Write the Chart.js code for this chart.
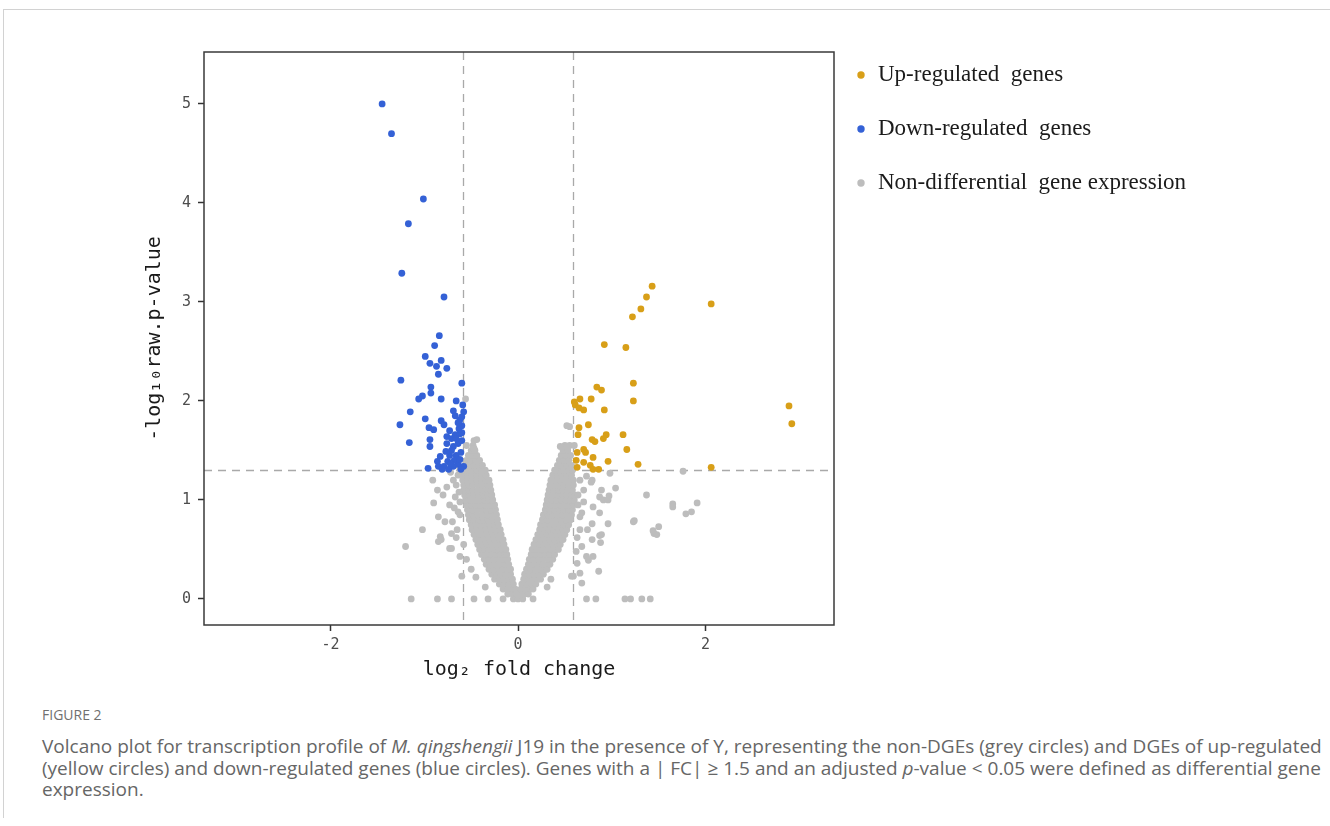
<!DOCTYPE html>
<html>
<head>
<meta charset="utf-8">
<title>Volcano plot</title>
<script src="https://cdn.jsdelivr.net/npm/chart.js@4.4.1/dist/chart.umd.min.js"></script>
<style>
  html, body { margin: 0; padding: 0; background: #fff; }
  body { width: 1330px; height: 826px; position: relative; overflow: hidden; }
  .frame {
    position: absolute; left: 3px; top: 9px; right: 0; height: 808px;
    border-top: 1px solid #d2d2d2; border-left: 1px solid #d2d2d2;
  }
  .chart-box { position: absolute; left: 20px; top: 20px; width: 1290px; height: 665px; }
  .caption { position: absolute; left: 42px; top: 706px; font-family: "Open Sans", "Noto Sans", sans-serif; }
  .fig-label { font-size: 14px; line-height: 18px; color: #707070; }
  .fig-text { margin-top: 12px; font-size: 19px; line-height: 21.5px; color: #666; white-space: nowrap; }
</style>
</head>
<body>
<div class="frame"></div>
<div class="chart-box"><canvas id="volcano"></canvas></div>
<div class="caption">
  <div class="fig-label">FIGURE 2</div>
  <div class="fig-text">Volcano plot for transcription profile of <i>M. qingshengii</i> J19 in the presence of Y, representing the non-DGEs (grey circles) and DGEs of up-regulated<br>(yellow circles) and down-regulated genes (blue circles). Genes with a | FC| ≥ 1.5 and an adjusted <i>p</i>-value &lt; 0.05 were defined as differential gene<br>expression.</div>
</div>

<script>
// Dane: [log2 fold change, -log10 p-value]
const upRegulated = [
  [1.43, 3.16], [1.37, 3.05], [1.31, 2.93], [1.22, 2.85], [2.06, 2.98], [0.92, 2.57],
  [1.15, 2.54], [1.23, 2.18], [0.84, 2.14], [0.89, 2.11], [1.23, 2.00], [0.66, 2.02],
  [0.78, 2.02], [0.61, 1.96], [0.65, 1.93], [0.70, 1.91], [0.92, 1.91], [2.89, 1.95],
  [2.92, 1.77], [0.75, 1.76], [0.65, 1.73], [0.64, 1.66], [0.94, 1.66], [1.12, 1.66],
  [0.79, 1.61], [0.82, 1.59], [0.91, 1.62], [0.63, 1.48], [0.70, 1.51], [0.72, 1.48],
  [1.16, 1.51], [0.80, 1.43], [0.70, 1.38], [0.96, 1.39], [1.28, 1.36], [0.63, 1.33],
  [0.77, 1.35], [0.86, 1.31], [0.80, 1.31], [2.06, 1.33], [0.62, 1.40], [0.60, 1.99]
];

const downRegulated = [
  [-1.45, 5.00], [-1.35, 4.70], [-1.01, 4.04], [-1.17, 3.79], [-1.24, 3.29], [-0.79, 3.05],
  [-0.84, 2.66], [-0.89, 2.56], [-0.99, 2.45], [-0.94, 2.38], [-0.82, 2.41], [-0.87, 2.35],
  [-0.76, 2.33], [-0.85, 2.27], [-1.25, 2.21], [-0.60, 2.18], [-0.93, 2.14], [-0.93, 2.08],
  [-1.02, 2.05], [-1.06, 2.02], [-0.82, 2.02], [-0.66, 2.00], [-0.59, 1.96], [-1.15, 1.89],
  [-0.69, 1.90], [-0.58, 1.89], [-1.26, 1.76], [-0.99, 1.82], [-0.82, 1.80], [-0.79, 1.76],
  [-0.62, 1.81], [-0.95, 1.73], [-0.90, 1.71], [-0.63, 1.72], [-0.60, 1.75], [-1.16, 1.58],
  [-0.94, 1.61], [-0.94, 1.54], [-0.76, 1.64], [-0.71, 1.62], [-0.67, 1.66], [-0.62, 1.67],
  [-0.76, 1.57], [-0.69, 1.54], [-0.64, 1.57], [-0.71, 1.50], [-0.83, 1.44], [-0.86, 1.39],
  [-0.96, 1.32], [-0.75, 1.39], [-0.69, 1.34], [-0.64, 1.36], [-0.58, 1.34], [-0.79, 1.34],
  [-0.85, 1.34], [-0.73, 1.45], [-0.66, 1.45], [-0.61, 1.48], [-0.77, 1.49], [-0.68, 1.40],
  [-0.62, 1.41], [-0.72, 1.36], [-0.60, 1.60], [-0.66, 1.62], [-0.73, 1.70], [-0.64, 1.78],
  [-0.60, 1.84], [-0.67, 1.85], [-0.60, 1.68], [-0.74, 1.31], [-0.61, 1.31], [-0.81, 1.31]
];

// Gęsta chmura szarych punktów (kształt litery V): [y, [x, ...]]
const nonDiffRows = [
  [0.00, [-0.05, 0.00, 0.05]],
  [0.05, [-0.11, -0.06, -0.02, 0.02, 0.07, 0.11]],
  [0.10, [-0.16, -0.11, -0.06, -0.03, 0.03, 0.08, 0.13, 0.16]],
  [0.15, [-0.20, -0.15, -0.10, -0.05, 0.04, 0.09, 0.14, 0.19]],
  [0.20, [-0.25, -0.20, -0.15, -0.10, -0.06, 0.06, 0.11, 0.16, 0.21, 0.24]],
  [0.25, [-0.28, -0.23, -0.18, -0.13, -0.08, 0.07, 0.12, 0.17, 0.22, 0.27]],
  [0.30, [-0.31, -0.26, -0.21, -0.16, -0.11, -0.08, 0.09, 0.14, 0.19, 0.24, 0.29, 0.31]],
  [0.35, [-0.34, -0.29, -0.24, -0.19, -0.14, -0.10, 0.11, 0.16, 0.21, 0.26, 0.31, 0.34]],
  [0.40, [-0.36, -0.31, -0.26, -0.21, -0.16, -0.11, 0.12, 0.17, 0.22, 0.27, 0.32, 0.37]],
  [0.45, [-0.39, -0.34, -0.29, -0.24, -0.19, -0.14, -0.12, 0.14, 0.19, 0.24, 0.29, 0.34, 0.39]],
  [0.50, [-0.41, -0.36, -0.31, -0.26, -0.21, -0.16, -0.13, 0.15, 0.20, 0.25, 0.30, 0.35, 0.40, 0.43]],
  [0.55, [-0.43, -0.38, -0.33, -0.28, -0.23, -0.18, -0.15, 0.17, 0.22, 0.27, 0.32, 0.37, 0.42, 0.45]],
  [0.60, [-0.45, -0.40, -0.35, -0.30, -0.25, -0.20, -0.16, 0.19, 0.24, 0.29, 0.34, 0.39, 0.44, 0.48]],
  [0.65, [-0.47, -0.42, -0.37, -0.32, -0.27, -0.22, -0.18, 0.21, 0.26, 0.31, 0.36, 0.41, 0.46, 0.50]],
  [0.70, [-0.49, -0.44, -0.39, -0.34, -0.29, -0.24, -0.19, 0.23, 0.28, 0.33, 0.38, 0.43, 0.48, 0.52]],
  [0.75, [-0.50, -0.45, -0.40, -0.35, -0.30, -0.25, -0.21, 0.24, 0.29, 0.34, 0.39, 0.44, 0.49, 0.54]],
  [0.80, [-0.52, -0.47, -0.42, -0.37, -0.32, -0.27, -0.22, 0.26, 0.31, 0.36, 0.41, 0.46, 0.51, 0.56]],
  [0.85, [-0.53, -0.48, -0.43, -0.38, -0.33, -0.28, -0.23, 0.27, 0.32, 0.37, 0.42, 0.47, 0.52, 0.57]],
  [0.90, [-0.54, -0.49, -0.44, -0.39, -0.34, -0.29, -0.24, 0.29, 0.34, 0.39, 0.44, 0.49, 0.54, 0.58]],
  [0.95, [-0.55, -0.50, -0.45, -0.40, -0.35, -0.30, -0.25, 0.30, 0.35, 0.40, 0.45, 0.50, 0.55, 0.59]],
  [1.00, [-0.56, -0.51, -0.46, -0.41, -0.36, -0.31, -0.27, 0.31, 0.36, 0.41, 0.46, 0.51, 0.56, 0.60]],
  [1.05, [-0.57, -0.52, -0.47, -0.42, -0.37, -0.32, -0.28, 0.32, 0.37, 0.42, 0.47, 0.52, 0.57, 0.60]],
  [1.10, [-0.58, -0.53, -0.48, -0.43, -0.38, -0.33, -0.29, 0.33, 0.38, 0.43, 0.48, 0.53, 0.58]],
  [1.15, [-0.58, -0.53, -0.48, -0.43, -0.38, -0.33, -0.30, 0.34, 0.39, 0.44, 0.49, 0.54, 0.59]],
  [1.20, [-0.59, -0.54, -0.49, -0.44, -0.39, -0.34, -0.31, 0.35, 0.40, 0.45, 0.50, 0.55, 0.59]],
  [1.25, [-0.59, -0.54, -0.49, -0.44, -0.39, -0.34, 0.37, 0.42, 0.47, 0.52, 0.57]],
  [1.30, [-0.59, -0.54, -0.49, -0.44, -0.39, -0.35, 0.39, 0.44, 0.49, 0.54, 0.58]],
  [1.35, [-0.57, -0.52, -0.47, -0.42, -0.38, 0.42, 0.47, 0.52, 0.57]],
  [1.40, [-0.55, -0.50, -0.45, -0.41, 0.44, 0.49, 0.54]],
  [1.45, [-0.53, -0.48, -0.44, 0.46, 0.51, 0.56]],
  [1.50, [-0.50, -0.46, 0.48, 0.53]],
  [1.55, [-0.48, 0.50, 0.55]],
  [1.60, [-0.47]]
];

// Pojedyncze szare punkty poza główną chmurą
const nonDiffScattered = [
  [-0.91, 1.20], [-0.90, 0.97], [-0.85, 0.83], [-0.80, 1.05], [-0.76, 1.13], [-0.73, 0.95],
  [-0.69, 1.20], [-0.67, 1.03], [-0.83, 0.63], [-0.82, 0.60], [-0.73, 0.51], [-0.65, 0.70],
  [-0.62, 0.43], [-0.60, 0.23], [-1.02, 0.70], [-1.20, 0.53], [-0.62, 0.85], [-0.64, 0.88],
  [-0.64, 1.25], [-0.66, 1.15], [-0.63, 1.08], [-0.68, 0.92], [-0.62, 0.98], [-0.70, 0.78],
  [-0.66, 0.62], [-0.58, 0.55], [-0.55, 0.40], [-0.50, 0.30], [-0.45, 0.22], [-0.72, 1.28],
  [-0.64, 1.35], [-0.56, 2.02], [-0.44, 1.61], [-0.47, 1.52], [-0.55, 1.55], [-0.35, 0.12],
  [-0.71, 0.66], [-0.78, 0.78], [-0.62, 1.30], [-0.86, 1.10], [-0.85, 0.58], [-0.71, 0.51],
  [0.66, 1.20], [0.73, 1.24], [0.78, 1.18], [0.87, 1.03], [0.91, 1.00], [0.96, 1.00],
  [0.68, 0.87], [0.87, 0.87], [0.66, 0.70], [0.79, 0.60], [0.87, 0.64], [0.73, 0.43],
  [0.66, 0.26], [0.68, 0.16], [0.59, 0.23], [0.79, 1.20], [0.89, 1.10], [0.80, 0.93],
  [0.66, 0.83], [0.79, 0.76], [0.88, 0.57], [0.80, 0.43], [0.63, 0.36], [0.57, 0.23],
  [0.64, 1.05], [0.70, 0.98], [0.64, 0.95], [0.70, 1.10], [0.63, 0.62], [0.68, 0.53],
  [0.62, 0.48], [0.74, 0.70], [0.45, 1.54], [0.52, 1.54], [0.40, 1.30], [0.55, 1.74],
  [0.52, 1.75], [0.60, 1.55], [0.31, 0.12], [0.35, 0.20], [0.75, 0.39], [0.86, 0.28],
  [0.89, 0.65], [0.96, 0.76], [0.97, 1.04], [0.98, 1.27], [1.04, 1.12], [1.24, 0.79],
  [1.37, 1.05], [1.45, 0.66], [1.48, 0.65], [1.50, 0.73], [1.65, 0.96], [1.65, 0.93],
  [1.76, 1.29], [1.79, 0.86], [1.85, 0.88], [1.91, 0.97], [1.23, 0.78], [1.44, 0.69]
];

// Geny z -log10 p = 0
const zeroPValueX = [-1.14, -0.86, -0.71, -0.47, -0.32, -0.16, 0.16, 0.73, 0.83, 1.14, 1.20, 1.32, 1.41];

const xTicks = [-2, 0, 2];
const yTicks = [0, 1, 2, 3, 4, 5];
const foldCutoffs = [-0.585, 0.585]; // log2(1.5)
const pCutoff = 1.301;               // -log10(0.05)

const seriesLabels = ["Up-regulated  genes", "Down-regulated  genes", "Non-differential  gene expression"];
const seriesColors = ["#d89f18", "#3461d6", "#bdbdbd"];

// Budowa punktów dla Chart.js
const toPoints = (pairs) => pairs.map(([x, y]) => ({ x, y }));
const greyPoints = [];
nonDiffRows.forEach(([y, xs]) => xs.forEach((x) => greyPoints.push({ x, y })));
nonDiffScattered.forEach(([x, y]) => greyPoints.push({ x, y }));
zeroPValueX.forEach((x) => greyPoints.push({ x, y: 0 }));

// Linie progowe (przerywane) pod punktami + ramka wykresu
const cutoffLines = {
  id: "cutoffLines",
  beforeDatasetsDraw(chart) {
    const { ctx, chartArea: a, scales: { x, y } } = chart;
    ctx.save();
    ctx.strokeStyle = "#a9a9a9";
    ctx.lineWidth = 1.3;
    ctx.setLineDash([8, 6]);
    foldCutoffs.forEach((v) => {
      const px = Math.round(x.getPixelForValue(v)) + 0.5;
      ctx.beginPath();
      ctx.moveTo(px, a.top);
      ctx.lineTo(px, a.bottom);
      ctx.stroke();
    });
    const py = Math.round(y.getPixelForValue(pCutoff)) + 0.5;
    ctx.beginPath();
    ctx.moveTo(a.left, py);
    ctx.lineTo(a.right, py);
    ctx.stroke();
    ctx.restore();
  },
  afterDatasetsDraw(chart) {
    const { ctx, chartArea: a } = chart;
    ctx.save();
    ctx.strokeStyle = "#3a3a3a";
    ctx.lineWidth = 1.5;
    ctx.strokeRect(a.left, a.top, a.right - a.left, a.bottom - a.top);
    ctx.restore();
  }
};

// Legenda po prawej stronie (czcionka szeryfowa jak w oryginale)
const sideLegend = {
  id: "sideLegend",
  afterDraw(chart) {
    const { ctx, chartArea: a } = chart;
    ctx.save();
    ctx.font = '23px "Liberation Serif", "Times New Roman", serif';
    ctx.textBaseline = "alphabetic";
    ctx.textAlign = "left";
    chart.data.datasets.forEach((ds, i) => {
      const cy = a.top + 23 + i * 54;
      ctx.fillStyle = ds.backgroundColor;
      ctx.beginPath();
      ctx.arc(a.right + 27, cy, 3.7, 0, Math.PI * 2);
      ctx.fill();
      ctx.fillStyle = "#1b1b1b";
      ctx.fillText(ds.label, a.right + 44, cy + 6);
    });
    ctx.restore();
  }
};

const monoFont = '"DejaVu Sans Mono", "Liberation Mono", monospace';

new Chart(document.getElementById("volcano"), {
  type: "scatter",
  data: {
    datasets: [
      { label: seriesLabels[0], data: toPoints(upRegulated), backgroundColor: seriesColors[0] },
      { label: seriesLabels[1], data: toPoints(downRegulated), backgroundColor: seriesColors[1] },
      { label: seriesLabels[2], data: greyPoints, backgroundColor: seriesColors[2] }
    ]
  },
  options: {
    responsive: true,
    maintainAspectRatio: false,
    animation: false,
    layout: { padding: { left: 0, top: 32, right: 476, bottom: 0 } },
    elements: { point: { radius: 3.4, hoverRadius: 3.4, borderWidth: 0 } },
    plugins: { legend: { display: false }, tooltip: { enabled: false } },
    scales: {
      x: {
        type: "linear",
        min: -3.35,
        max: 3.37,
        afterBuildTicks: (s) => { s.ticks = xTicks.map((v) => ({ value: v })); },
        afterFit: (s) => { s.height = 60; },
        border: { display: false },
        grid: { drawOnChartArea: false, drawTicks: true, tickLength: 6, tickColor: "#333", tickWidth: 1.5 },
        ticks: { color: "#4d4d4d", padding: 5, font: { family: monoFont, size: 15 } },
        title: {
          display: true,
          text: "log\u2082 fold change",
          color: "#1a1a1a",
          font: { family: monoFont, size: 20 },
          padding: { top: 0, bottom: 3 }
        }
      },
      y: {
        type: "linear",
        min: -0.263,
        max: 5.525,
        afterBuildTicks: (s) => { s.ticks = yTicks.map((v) => ({ value: v })); },
        afterFit: (s) => { s.width = 184; },
        border: { display: false },
        grid: { drawOnChartArea: false, drawTicks: true, tickLength: 6, tickColor: "#333", tickWidth: 1.5 },
        ticks: { color: "#4d4d4d", padding: 7, font: { family: monoFont, size: 15 } },
        title: {
          display: true,
          text: "-log\u2081\u2080raw.p-value",
          color: "#1a1a1a",
          font: { family: monoFont, size: 20 },
          padding: { top: 123, bottom: 0 }
        }
      }
    }
  },
  plugins: [cutoffLines, sideLegend]
});
</script>
</body>
</html>
